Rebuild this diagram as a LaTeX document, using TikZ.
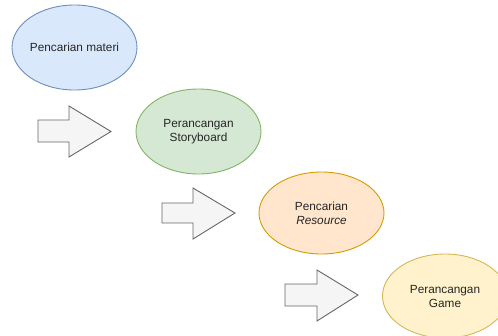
\documentclass[tikz,border=0pt]{standalone}
\usepackage{fontspec}
\setmainfont{Liberation Sans}
\definecolor{bluefill}{HTML}{DAE8FC}\definecolor{bluedraw}{HTML}{6C8EBF}
\definecolor{greenfill}{HTML}{D5E8D4}\definecolor{greendraw}{HTML}{82B366}
\definecolor{orangefill}{HTML}{FFE6CC}\definecolor{orangedraw}{HTML}{D79B00}
\definecolor{yellowfill}{HTML}{FFF2CC}\definecolor{yellowdraw}{HTML}{D6B656}
\definecolor{arrowfill}{HTML}{F5F5F5}\definecolor{arrowdraw}{HTML}{666666}
\begin{document}
\begin{tikzpicture}[x=1pt,y=-1pt,
  label/.style={font=\fontsize{11.8}{14}\selectfont, align=center, text=black!85},
  oval/.style={line width=0.9pt},
  bigarrow/.style={fill=arrowfill, draw=arrowdraw, line width=0.9pt, line join=miter}]
\useasboundingbox (0,0) rectangle (498,335);
\begin{scope}
\clip (0,0) rectangle (498,335);
\path[oval, fill=bluefill, draw=bluedraw] (74.5,47.5) ellipse [x radius=62.5, y radius=42.5];
\node (materi) at (74.5,47.5) {};
\path[oval, fill=greenfill, draw=greendraw] (198.5,131.5) ellipse [x radius=62.5, y radius=42.5];
\node (story) at (198.5,131.5) {};
\path[oval, fill=orangefill, draw=orangedraw] (321.5,213) ellipse [x radius=62.5, y radius=41];
\node (resource) at (321.5,213) {};
\path[oval, fill=yellowfill, draw=yellowdraw] (445,296) ellipse [x radius=62.5, y radius=42];
\node (game) at (445,296) {};
\end{scope}
\node[label] at (materi) {Pencarian materi};
\node[label] at (story) {Perancangan\\Storyboard};
\node[label] at (resource) {Pencarian\\\textit{Resource}};
\node[label] at (game) {Perancangan\\Game};
% arrows
\draw[bigarrow] (38,120) -- (69,120) -- (69,106) -- (111,131.5) -- (69,157) -- (69,142) -- (38,142) -- cycle;
\draw[bigarrow] (162,203) -- (193,203) -- (193,188) -- (235,213) -- (193,239) -- (193,223) -- (162,223) -- cycle;
\draw[bigarrow] (285,284) -- (317,284) -- (317,270) -- (358,295) -- (317,321) -- (317,306) -- (285,306) -- cycle;
\end{tikzpicture}
\end{document}
